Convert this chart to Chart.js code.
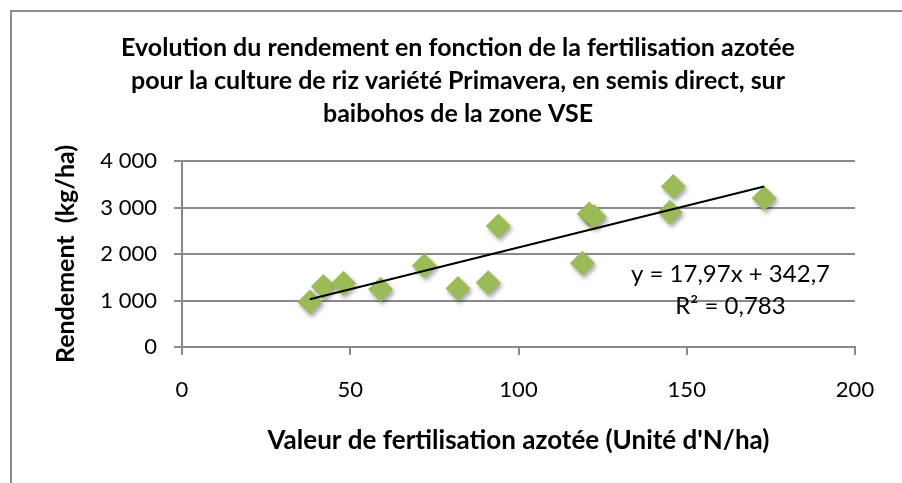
<!DOCTYPE html>
<html>
<head>
<meta charset="utf-8">
<script src="https://cdn.jsdelivr.net/npm/chart.js@4.4.1/dist/chart.umd.min.js"></script>
<style>
  html, body { margin: 0; padding: 0; background: #fff; overflow: hidden; }
  #frame {
    position: absolute; left: 10px; top: 10px;
    width: 920px; height: 500px;
    border: 2px solid #8c8c8c;
  }
  #chart { position: absolute; left: 0; top: 0; }
</style>
</head>
<body>
<div id="frame"></div>
<canvas id="chart" width="902" height="483"></canvas>
<script>
/* Rendement du riz Primavera vs fertilisation azotee */

// points (N units/ha, kg/ha)
const nitrogen = [38, 42, 48, 59, 72, 82, 91, 94, 119, 121, 122.5, 146, 145, 173];
const yieldKg  = [970, 1300, 1370, 1240, 1750, 1260, 1380, 2600, 1800, 2860, 2800, 3450, 2900, 3200];

// linear trend line shown on the chart
const trendX = [38, 173];
const trendY = [1026, 3452];
const trendLabel = ["y = 17,97x + 342,7", "R\u00b2 = 0,783"];
// where the equation sits, in data units (x centre, baselines)
const labelAt = { x: 163, y: [1405, 700] };

const titleLines = [
    "Evolution du rendement en fonction de la fertilisation azotée",
    "pour la culture de riz variété Primavera, en semis direct, sur",
    "baibohos de la zone VSE"
];
const xTitle = "Valeur de fertilisation azotée (Unité d'N/ha)";
const yTitle = "Rendement  (kg/ha)";

const FONT = "Lato, 'Open Sans', sans-serif";
const GRID = '#8a8a8a';

function fmt(v) {
    // 4000 -> "4 000"
    return String(v).replace(/\B(?=(\d{3})+(?!\d))/g, ' ');
}

// draw the equation text and a soft shadow under the diamonds
const extras = {
    id: 'extras',
    beforeDatasetDraw(chart, args) {
        if (args.index !== 1) return;
        const ctx = chart.ctx;
        ctx.save();
        ctx.shadowColor = 'rgba(0,0,0,0.35)';
        ctx.shadowBlur = 4;
        ctx.shadowOffsetX = 2;
        ctx.shadowOffsetY = 3;
    },
    afterDatasetDraw(chart, args) {
        if (args.index !== 1) return;
        chart.ctx.restore();
    },
    afterDatasetsDraw(chart) {
        const ctx = chart.ctx;
        const xs = chart.scales.x, ys = chart.scales.y;
        ctx.save();
        ctx.fillStyle = '#000';
        ctx.font = "24px " + FONT;
        ctx.textAlign = 'center';
        ctx.textBaseline = 'alphabetic';
        for (let i = 0; i < trendLabel.length; i++) {
            ctx.fillText(trendLabel[i], xs.getPixelForValue(labelAt.x), ys.getPixelForValue(labelAt.y[i]));
        }
        ctx.restore();
    }
};

const ctx = document.getElementById('chart');

new Chart(ctx, {
    type: 'scatter',
    data: {
        datasets: [{
            label: 'Linéaire',
            type: 'line',
            data: trendX.map((x, i) => ({ x: x, y: trendY[i] })),
            borderColor: '#000',
            borderWidth: 2,
            pointRadius: 0,
            fill: false,
            order: 0
        }, {
            label: 'Rendement',
            data: nitrogen.map((x, i) => ({ x: x, y: yieldKg[i] })),
            pointStyle: 'rectRot',
            pointRadius: 12.5,
            pointHoverRadius: 12.5,
            backgroundColor: '#9bbb59',
            borderColor: '#9bbb59',
            borderWidth: 0,
            order: 1
        }]
    },
    options: {
        responsive: false,
        animation: false,
        devicePixelRatio: 1,
        layout: {
            padding: { left: 61, right: 47, top: 20, bottom: 0 }
        },
        plugins: {
            legend: { display: false },
            tooltip: { enabled: false },
            title: {
                display: true,
                text: titleLines,
                color: '#000',
                font: { family: FONT, size: 25, weight: 'bold', lineHeight: 1.32 },
                padding: { top: 11, bottom: 31 }
            }
        },
        scales: {
            x: {
                type: 'linear',
                min: 0,
                max: 200,
                ticks: {
                    stepSize: 50,
                    color: '#000',
                    padding: 22,
                    font: { family: FONT, size: 22 }
                },
                grid: {
                    drawOnChartArea: false,
                    drawTicks: true,
                    tickLength: 8,
                    color: GRID,
                    lineWidth: 2
                },
                border: { display: true, color: GRID, width: 2 },
                title: {
                    display: true,
                    text: xTitle,
                    color: '#000',
                    font: { family: FONT, size: 26, weight: 'bold' },
                    padding: { top: 0, bottom: 27 }
                },
                afterFit(scale) { scale.height = 136; }
            },
            y: {
                min: 0,
                max: 4000,
                ticks: {
                    stepSize: 1000,
                    color: '#000',
                    padding: 17,
                    font: { family: FONT, size: 22 },
                    callback: (v) => fmt(v)
                },
                grid: {
                    color: GRID,
                    lineWidth: 2,
                    tickLength: 8
                },
                border: { display: true, color: GRID, width: 2 },
                title: {
                    display: true,
                    text: yTitle,
                    color: '#000',
                    font: { family: FONT, size: 25, weight: 'bold' },
                    padding: { top: -10, bottom: 0 }
                },
                afterFit(scale) { scale.width = 121; }
            }
        }
    },
    plugins: [extras]
});
</script>
</body>
</html>
